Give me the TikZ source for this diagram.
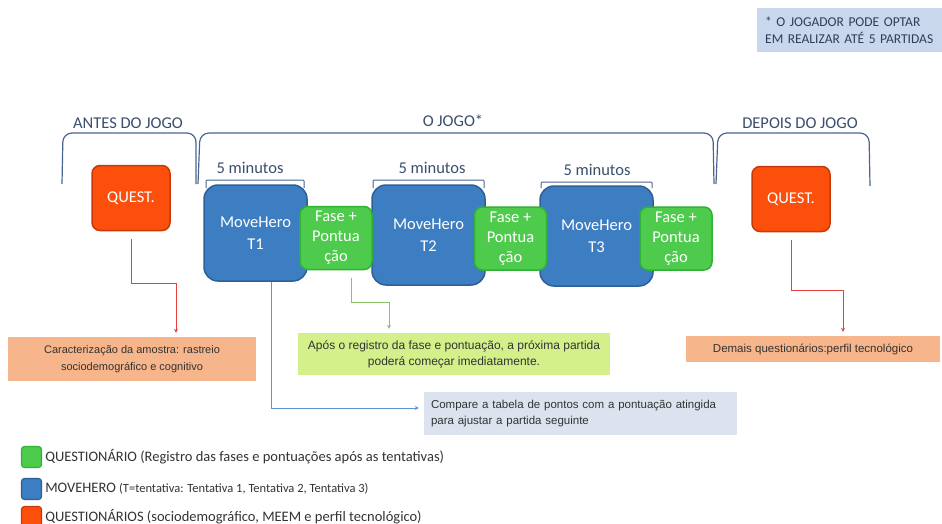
\documentclass[tikz,border=0pt]{standalone}
\usepackage{fontspec}
\setmainfont{Carlito}
\newfontfamily\arialfont{Liberation Sans}
\usetikzlibrary{positioning,arrows.meta}
\definecolor{questred}{HTML}{FC4F0C}
\definecolor{questborder}{HTML}{C8390A}
\definecolor{heroblue}{HTML}{3D7EC2}
\definecolor{heroborder}{HTML}{2D5F98}
\definecolor{fasegreen}{HTML}{4ECB4C}
\definecolor{faseborder}{HTML}{2FB236}
\definecolor{bracecol}{HTML}{4A6690}
\definecolor{titlecol}{HTML}{3A4E6E}
\definecolor{peach}{HTML}{F6B58A}
\definecolor{lime}{HTML}{D3F08A}
\definecolor{notebg}{HTML}{C9D7EC}
\definecolor{notegray}{HTML}{DCE3EE}
\definecolor{linered}{HTML}{E5413E}
\definecolor{linegreen}{HTML}{8DC26A}
\definecolor{lineblue}{HTML}{5E92D3}
\definecolor{legtxt}{HTML}{333333}

\tikzset{
  quest/.style={draw=questborder, line width=1.5pt, fill=questred, rounded corners=8pt,
    minimum width=78pt, minimum height=65pt, text=white, font=\fontsize{16.5}{18}\selectfont},
  hero/.style={draw=heroborder, line width=1.5pt, fill=heroblue, rounded corners=14pt,
    text=white, align=center, font=\fontsize{16.5}{22}\selectfont},
  fase/.style={draw=faseborder, line width=1.5pt, fill=fasegreen, rounded corners=8pt,
    minimum width=72pt, minimum height=63pt, inner sep=0pt, text=white, align=center,
    font=\fontsize{16.5}{20}\selectfont},
  phase/.style={text=titlecol, font=\fontsize{16.5}{18}\selectfont},
  minutes/.style={text=titlecol, font=\fontsize{16.5}{18}\selectfont},
  bigbrace/.style={bracecol, line width=1.2pt, rounded corners=9pt},
  smallbrace/.style={bracecol, line width=1pt, rounded corners=1pt},
  remark/.style={align=center, text=legtxt, inner sep=0pt, font=\arialfont\fontsize{11.5}{16}\selectfont},
  conn/.style={-{Stealth[length=4pt,width=4pt]}, line width=1pt, shorten >=4pt},
  legbox/.style={rounded corners=3pt, line width=1.2pt, minimum width=20pt, minimum height=21pt, inner sep=0pt},
  legtext/.style={text=legtxt, inner sep=0pt, anchor=west, font=\fontsize{14.5}{16}\selectfont}
}

\begin{document}
\begin{tikzpicture}[x=1pt,y=-1pt]
\useasboundingbox[fill=white] (0,0) rectangle (942,524);

\node[fill=notebg, text=titlecol!80!black, align=left, anchor=west, minimum height=44pt,
  text width=190pt, inner xsep=8pt, font=\fontsize{13.5}{17}\selectfont] (obs) at (757,30)
  {* O JOGADOR PODE OPTAR\\EM REALIZAR ATÉ 5 PARTIDAS};

\node[phase] (antes) at (128,123) {ANTES DO JOGO};
\node[phase] (jogo) at (453,121) {O JOGO*};
\node[phase] (depois) at (800,123) {DEPOIS DO JOGO};

\draw[bigbrace] (62,184) -- (63,133) -- (196,133) -- (196,184);
\draw[bigbrace] (198,184) -- (200,133) -- (713,133) -- (714,184);
\draw[bigbrace] (716,184) -- (718,133) -- (869,133) -- (870,186);

\node[minutes] (m1) at (250,168) {5 minutos};
\node[minutes] (m2) at (432,168) {5 minutos};
\node[minutes] (m3) at (597,170) {5 minutos};
\draw[smallbrace] (206,188) -- (206,180) -- (304,180) -- (304,188);
\draw[smallbrace] (373,188) -- (373,180) -- (484,180) -- (484,188);
\draw[smallbrace] (541,188) -- (541,182) -- (652,182) -- (652,188);

\node[quest] (q1) at (131,198) {QUEST.};
\node[quest] (q2) at (791,199) {QUEST.};

\node[hero, minimum width=103pt, minimum height=96pt] (t1) at (255.5,233) {MoveHero\\T1};
\node[hero, minimum width=113pt, minimum height=100pt] (t2) at (428.5,235) {MoveHero\\T2};
\node[hero, minimum width=113pt, minimum height=100pt] (t3) at (596.5,236) {MoveHero\\T3};

\node[fase] (f1) at (336,238) {Fase +\\Pontua\\ção};
\node[fase] (f2) at (510.5,238.5) {Fase +\\Pontua\\ção};
\node[fase] (f3) at (676,238.5) {Fase +\\Pontua\\ção};

\node[remark, fill=peach, minimum width=248pt, minimum height=44pt, font=\arialfont\fontsize{11}{17}\selectfont] (amostra) at (132,359)
  {Caracterização da amostra: rastreio\\sociodemográfico e cognitivo};
\node[remark, fill=lime, minimum width=312pt, minimum height=42pt, font=\arialfont\fontsize{12}{16}\selectfont] (registro) at (454,354)
  {Após o registro da fase e pontuação, a próxima partida\\poderá começar imediatamente.};
\node[remark, fill=peach, minimum width=254pt, minimum height=26pt] (demais) at (813,349)
  {Demais questionários:perfil tecnológico};
\node[remark, fill=notegray, align=left, text width=299pt, inner xsep=7pt, minimum height=43pt, font=\arialfont\fontsize{11.5}{16}\selectfont] (compare) at (580.5,413.5)
  {Compare a tabela de pontos com a pontuação atingida\\para ajustar a partida seguinte};

\coordinate (c1) at (176,283);
\coordinate (c2) at (843,290);
\coordinate (c3) at (389,302);
\draw[conn, linered, shorten <=8pt] (q1.south) |- (c1) -- (c1 |- amostra.north);
\draw[conn, linered, shorten <=8pt] (q2.south) |- (c2) -- (c2 |- demais.north);
\draw[conn, linegreen, shorten <=8pt] ([xshift=15pt] f1.south) |- (c3) -- (c3 |- registro.north);
\draw[conn, lineblue, shorten >=5pt] ([xshift=15.5pt] t1.south) |- ([yshift=5.5pt] compare.west);

\node[legbox, fill=fasegreen, draw=faseborder] (lg1) at (31.5,457) {};
\node[legtext, right=3pt of lg1] (lt1) {QUESTIONÁRIO (Registro das fases e pontuações após as tentativas)};
\node[legbox, fill=heroblue, draw=heroborder] (lg2) at (31.5,489) {};
\node[legtext, right=3pt of lg2] (lt2) {MOVEHERO {\fontsize{12.5}{14}\selectfont(T=tentativa: Tentativa 1, Tentativa 2, Tentativa 3)}};
\node[legbox, fill=questred, draw=questborder] (lg3) at (31.5,517) {};
\node[legtext, right=3pt of lg3] (lt3) {QUESTIONÁRIOS (sociodemográfico, MEEM e perfil tecnológico)};
\end{tikzpicture}
\end{document}
